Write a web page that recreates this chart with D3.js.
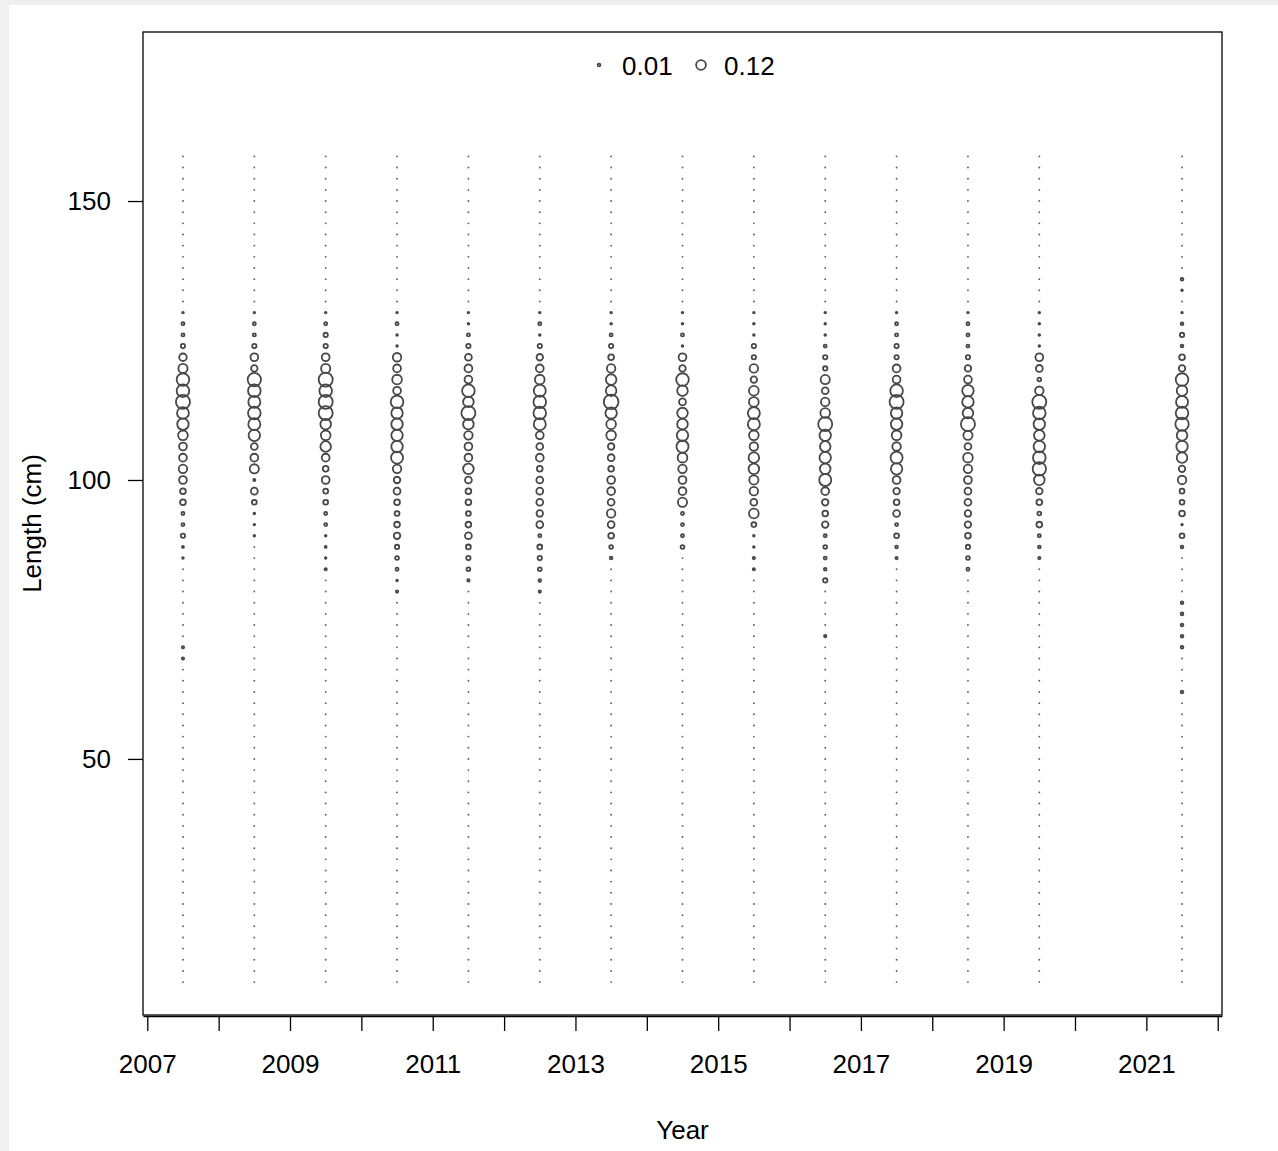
<!DOCTYPE html>
<html><head><meta charset="utf-8">
<script src="https://cdn.jsdelivr.net/npm/d3@7/dist/d3.min.js"></script>
<style>
html,body{margin:0;padding:0;background:#f0f0f0;}
svg{display:block;}
text{font-family:"Liberation Sans",Arial,sans-serif;fill:#000;}
</style></head><body>
<script>
// ---- data ----
const years = [2007.5,2008.5,2009.5,2010.5,2011.5,2012.5,2013.5,2014.5,2015.5,2016.5,2017.5,2018.5,2019.5,2021.5];
// length bins (cm)
const lengthBins = [10,12,14,16,18,20,22,24,26,28,30,32,34,36,38,40,42,44,46,48,50,52,54,56,58,60,62,64,66,68,70,72,74,76,78,80,82,84,86,88,90,92,94,96,98,100,102,104,106,108,110,112,114,116,118,120,122,124,126,128,130,132,134,136,138,140,142,144,146,148,150,152,154,156,158];
// proportions for bins 60..136 (step 2); all other bins are 0
const detailBins = [60,62,64,66,68,70,72,74,76,78,80,82,84,86,88,90,92,94,96,98,100,102,104,106,108,110,112,114,116,118,120,122,124,126,128,130,132,134,136];
const p2007 = [0,0,0,0,.006,.006,0,0,0,0,0,0,0,.003,.004,.02,.01,.01,.035,.035,.065,.077,.065,.065,.1,.14,.15,.21,.17,.17,.09,.06,.02,.01,.01,.003,0,0,0];
const p2008 = [0,0,0,0,0,0,0,0,0,0,0,0,0,0,0,.002,.003,.003,.025,.05,.005,.09,.065,.05,.14,.155,.17,.155,.17,.19,.045,.065,.02,.01,.01,.003,0,0,0];
const p2009 = [0,0,0,0,0,0,0,0,0,0,0,0,.006,.003,.004,.003,.01,.01,.025,.025,.065,.035,.065,.12,.1,.12,.21,.21,.17,.21,.09,.065,.02,.02,.01,.003,0,0,0];
const p2010 = [0,0,0,0,0,0,0,0,0,0,.006,.003,.01,.015,.02,.045,.035,.025,.035,.05,.045,.077,.155,.14,.14,.14,.14,.17,.065,.1,.065,.077,.003,.003,.01,.003,0,0,0];
const p2011 = [0,0,0,0,0,0,0,0,0,0,0,.006,.015,.02,.025,.05,.035,.025,.035,.035,.05,.12,.065,.065,.077,.12,.21,.12,.17,.065,.065,.05,.02,.01,.003,.003,0,0,0];
const p2012 = [0,0,0,0,0,0,0,0,0,0,.006,.008,.015,.02,.025,.01,.05,.045,.05,.05,.05,.035,.065,.05,.065,.155,.17,.17,.155,.1,.065,.045,.02,.003,.01,.003,0,0,0];
const p2013 = [0,0,0,0,0,0,0,0,0,0,0,0,0,.008,.015,.035,.05,.077,.05,.065,.065,.035,.05,.045,.1,.1,.14,.23,.12,.12,.077,.035,.02,.01,.003,.003,0,0,0];
const p2014 = [0,0,0,0,0,0,0,0,0,0,0,0,0,0,.015,.01,.01,.01,.09,.065,.065,.077,.1,.155,.14,.12,.12,.05,.12,.17,.045,.065,.003,.01,.003,.003,0,0,0];
const p2015 = [0,0,0,0,0,0,0,0,0,0,0,0,.006,.006,.003,.003,.025,.1,.05,.077,.09,.12,.12,.077,.1,.155,.155,.1,.1,.045,.077,.02,.02,.003,.003,.003,0,0,0];
const p2016 = [0,0,0,0,0,0,.006,0,0,0,0,.02,.008,.01,.015,.01,.045,.035,.045,.065,.155,.12,.14,.12,.14,.21,.1,.077,.05,.09,.02,.02,.01,.003,.003,.003,0,0,0];
const p2017 = [0,0,0,0,0,0,0,0,0,0,0,0,0,.006,.008,.025,.01,.05,.035,.045,.065,.14,.155,.077,.1,.14,.14,.21,.17,.065,.065,.02,.02,.01,.01,.003,0,0,0];
const p2018 = [0,0,0,0,0,0,0,0,0,0,0,0,.01,.015,.02,.035,.045,.045,.05,.05,.065,.077,.1,.05,.09,.21,.12,.14,.14,.065,.045,.02,.01,.01,.01,.003,0,0,0];
const p2019 = [0,0,0,0,0,0,0,0,0,0,0,0,0,.006,.008,.01,.035,.015,.035,.045,.12,.19,.17,.14,.12,.14,.17,.21,.077,.015,.05,.065,.003,.003,.003,.003,0,0,0];
const p2021 = [0,.008,0,0,0,.008,.008,.008,.008,.008,0,0,0,0,.008,.025,.003,.035,.025,.025,.077,.045,.12,.14,.12,.19,.17,.155,.12,.17,.045,.035,.008,.02,.008,.003,0,.003,.008];
const yearValues = [p2007,p2008,p2009,p2010,p2011,p2012,p2013,p2014,p2015,p2016,p2017,p2018,p2019,p2021];
const xTicks = [2007,2008,2009,2010,2011,2012,2013,2014,2015,2016,2017,2018,2019,2020,2021,2022];
const xTickLabels = [2007,2009,2011,2013,2015,2017,2019,2021];
const yTicks = [50,100,150];
const legendValues = [0.01,0.12];

// ---- build points ----
const points = [];
years.forEach((yr,i)=>{
  const vals = yearValues[i];
  lengthBins.forEach(L=>{
    const k = detailBins.indexOf(L);
    points.push({year:yr, len:L, v: k>=0 ? vals[k] : 0});
  });
});

// ---- drawing ----
const W=1278, H=1151;
const svg = d3.select("body").append("svg").attr("width",W).attr("height",H);
svg.append("rect").attr("x",9).attr("y",5).attr("width",W-9).attr("height",H-5).attr("fill","#fff");

const L0=143, R0=1222, T0=32, B0=1015;
const x = d3.scaleLinear().domain([2006.94,2022.06]).range([L0,R0]);
const y = d3.scaleLinear().domain([4.1,180.3]).range([B0,T0]);
const r = d3.scaleSqrt().domain([0,0.12]).range([0,5.3]);
const stroke = "#474747";

const g = svg.append("g");
g.selectAll("circle.pt").data(points).enter().append("circle")
  .attr("class","pt")
  .attr("cx",d=>x(d.year)).attr("cy",d=>y(d.len))
  .attr("r",d=>d.v>0?Math.max(0.8,r(d.v)):0.95)
  .attr("fill",d=>d.v>0?"none":"#606060")
  .attr("stroke",d=>d.v>0?stroke:"none")
  .attr("stroke-width",1.8);

// box
svg.append("rect").attr("x",L0).attr("y",T0).attr("width",R0-L0).attr("height",B0-T0)
  .attr("fill","none").attr("stroke","#000").attr("stroke-width",1.3);

// x axis
const xa = svg.append("g").attr("transform",`translate(0,${B0+1})`)
  .call(d3.axisBottom(x).tickValues(xTicks).tickSize(15).tickSizeOuter(0).tickFormat(d=>xTickLabels.includes(d)?d:""));
xa.select(".domain").attr("stroke","#000").attr("stroke-width",1.3);
xa.selectAll(".tick line").attr("stroke","#000").attr("stroke-width",1.3);
xa.selectAll(".tick text").attr("font-size",26).attr("font-family","Liberation Sans, Arial, sans-serif").attr("dy","1.5em");

// y axis
const ya = svg.append("g").attr("transform",`translate(${L0},0)`)
  .call(d3.axisLeft(y).tickValues(yTicks).tickSize(15).tickSizeOuter(0).tickFormat(d3.format("d")));
ya.select(".domain").remove();
ya.selectAll(".tick line").attr("stroke","#000").attr("stroke-width",1.3);
ya.selectAll(".tick text").attr("font-size",26).attr("font-family","Liberation Sans, Arial, sans-serif").attr("x",-32);

// axis titles
svg.append("text").attr("x",(L0+R0)/2).attr("y",1139).attr("text-anchor","middle").attr("font-size",26).text("Year");
svg.append("text").attr("transform",`translate(41,${(T0+B0)/2}) rotate(-90)`).attr("text-anchor","middle").attr("font-size",26).text("Length (cm)");

// legend
const leg = svg.append("g");
const legX = [599,701];
legendValues.forEach((v,i)=>{
  leg.append("circle").attr("cx",legX[i]).attr("cy",65).attr("r",r(v)*0.92)
    .attr("fill","none").attr("stroke",stroke).attr("stroke-width",1.8);
  leg.append("text").attr("x",legX[i]+23).attr("y",75).attr("font-size",26).text(v);
});
</script>
</body></html>
